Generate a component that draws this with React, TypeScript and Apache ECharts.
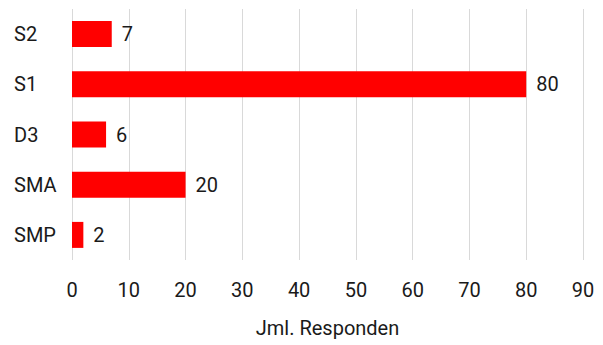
import React, { useEffect, useRef } from "react";
import * as echarts from "echarts";

const categories = ["SMP", "SMA", "D3", "S1", "S2"];
const values = [2, 20, 6, 80, 7];
const axisName = "Jml. Responden";

export default function App() {
  const ref = useRef<HTMLDivElement>(null);
  useEffect(() => {
    if (!ref.current) return;
    const chart = echarts.init(ref.current, null, { renderer: "svg" });
    chart.setOption({
      animation: false,
      textStyle: { fontFamily: "Roboto" },
      grid: { left: 72, right: 20, top: 9, bottom: 85, containLabel: false },
      xAxis: {
        type: "value",
        min: 0,
        max: 90,
        interval: 10,
        axisLine: { show: false },
        axisTick: { show: false },
        axisLabel: { color: "#1a1a1a", fontSize: 20, margin: 20, fontFamily: "Roboto" },
        splitLine: { lineStyle: { color: "#d9d9d9", width: 1 } },
        name: axisName,
        nameLocation: "middle",
        nameGap: 58,
        nameTextStyle: { color: "#1a1a1a", fontSize: 20, fontFamily: "Roboto" },
      },
      yAxis: {
        type: "category",
        data: categories,
        axisLine: { show: false },
        axisTick: { show: false },
        axisLabel: {
          color: "#1a1a1a",
          fontSize: 20,
          margin: 58,
          align: "left",
          fontFamily: "Roboto",
        },
        splitLine: { show: false },
      },
      series: [
        {
          type: "bar",
          data: values,
          barWidth: 26,
          itemStyle: { color: "#ff0000" },
          label: {
            show: true,
            position: "right",
            distance: 10,
            color: "#1a1a1a",
            fontSize: 20,
            fontFamily: "Roboto",
          },
        },
      ],
    });
    return () => chart.dispose();
  }, []);
  return <div ref={ref} style={{ width: 603, height: 345, position: "absolute", left: 0, top: 0 }} />;
}
